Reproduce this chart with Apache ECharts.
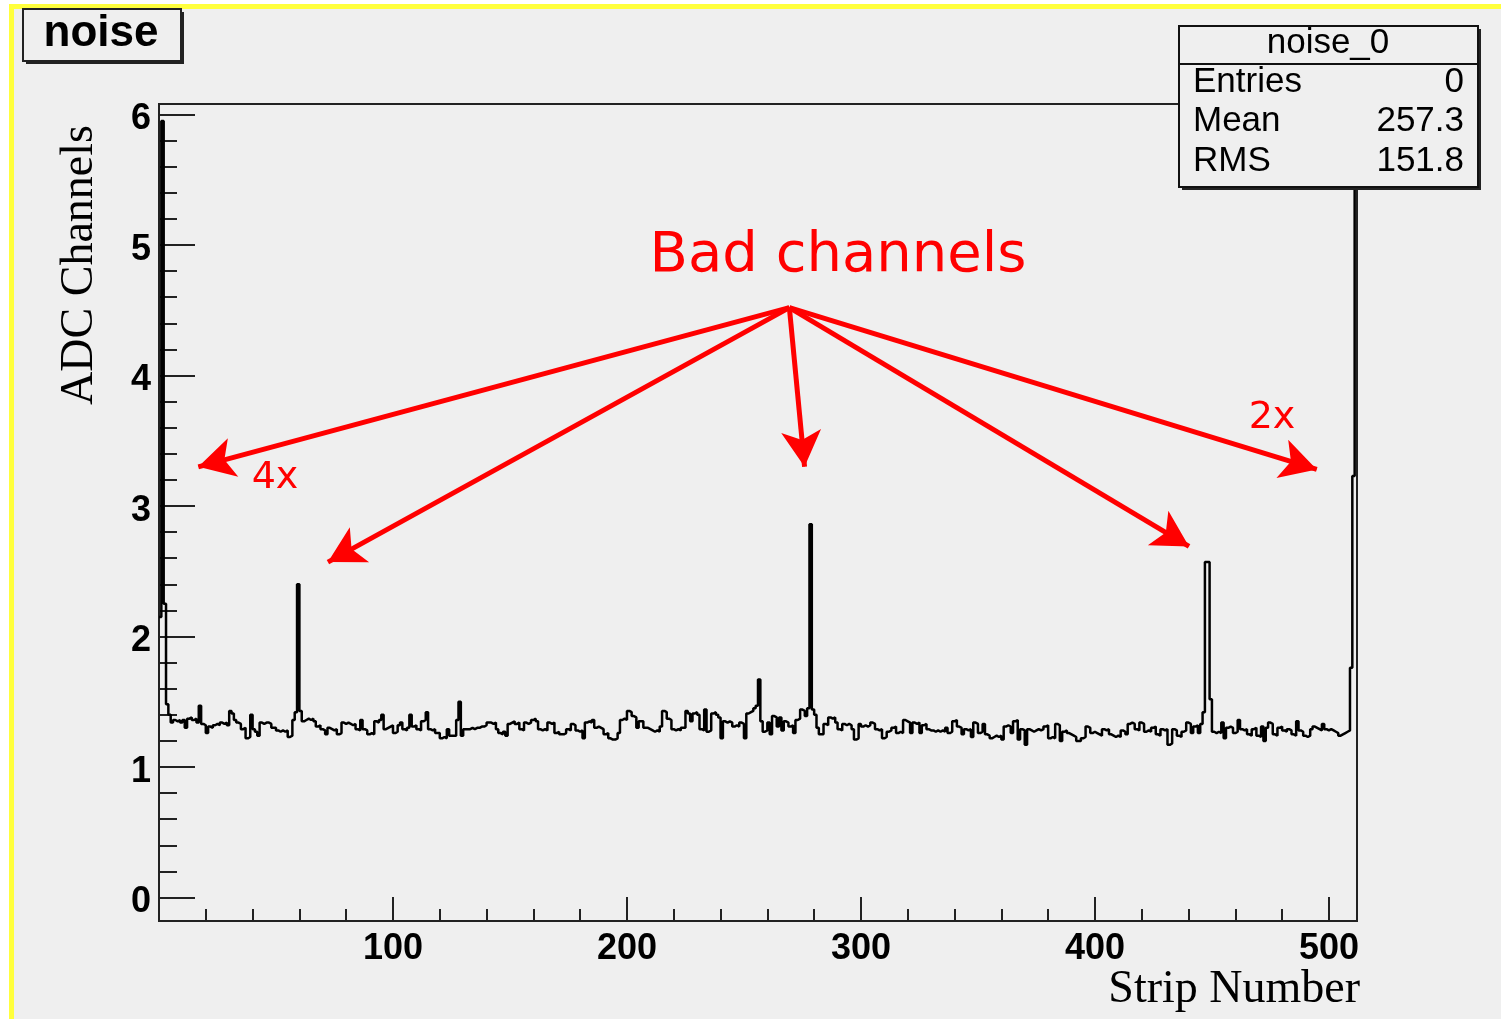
<!DOCTYPE html>
<html>
<head>
<meta charset="utf-8">
<title>noise</title>
<script src="https://cdn.jsdelivr.net/npm/echarts@6/dist/echarts.min.js"></script>
<style>
  html, body { margin: 0; padding: 0; background: #fff; }
  #chart { width: 1501px; height: 1019px; }
</style>
</head>
<body>
<div id="chart"></div>
<script>
// ADC noise per strip, one value per bin (strips 0..511)
var noise = [
  2.15, 5.95, 2.25, 1.48, 1.40, 1.34, 1.36, 1.35, 1.36, 1.34, 1.36, 1.30, 1.37, 1.38, 1.36, 1.37,
  1.34, 1.47, 1.33, 1.32, 1.26, 1.31, 1.30, 1.32, 1.33, 1.32, 1.34, 1.33, 1.34, 1.32, 1.43, 1.41,
  1.36, 1.34, 1.33, 1.29, 1.30, 1.22, 1.23, 1.40, 1.29, 1.27, 1.24, 1.34, 1.33, 1.34, 1.34, 1.33,
  1.30, 1.30, 1.28, 1.27, 1.28, 1.27, 1.28, 1.23, 1.24, 1.36, 1.42, 2.40, 1.43, 1.35, 1.36, 1.37,
  1.36, 1.37, 1.35, 1.31, 1.32, 1.29, 1.28, 1.25, 1.30, 1.29, 1.28, 1.29, 1.25, 1.26, 1.34, 1.33,
  1.34, 1.33, 1.32, 1.33, 1.29, 1.28, 1.36, 1.29, 1.28, 1.25, 1.26, 1.25, 1.35, 1.34, 1.36, 1.40,
  1.29, 1.30, 1.31, 1.32, 1.26, 1.27, 1.32, 1.34, 1.29, 1.28, 1.30, 1.40, 1.31, 1.32, 1.29, 1.28,
  1.35, 1.36, 1.42, 1.29, 1.28, 1.29, 1.26, 1.26, 1.22, 1.23, 1.22, 1.29, 1.24, 1.24, 1.24, 1.36,
  1.50, 1.24, 1.29, 1.29, 1.29, 1.30, 1.29, 1.30, 1.30, 1.31, 1.31, 1.32, 1.34, 1.34, 1.33, 1.34,
  1.29, 1.26, 1.25, 1.27, 1.24, 1.33, 1.34, 1.35, 1.33, 1.34, 1.29, 1.28, 1.34, 1.33, 1.34, 1.36,
  1.37, 1.35, 1.29, 1.28, 1.29, 1.28, 1.34, 1.33, 1.34, 1.26, 1.27, 1.25, 1.25, 1.26, 1.29, 1.28,
  1.33, 1.32, 1.28, 1.27, 1.28, 1.22, 1.34, 1.35, 1.34, 1.36, 1.30, 1.31, 1.30, 1.29, 1.25, 1.26,
  1.22, 1.21, 1.21, 1.22, 1.26, 1.36, 1.37, 1.36, 1.43, 1.42, 1.39, 1.38, 1.30, 1.35, 1.35, 1.30,
  1.30, 1.29, 1.28, 1.27, 1.28, 1.27, 1.31, 1.43, 1.42, 1.37, 1.36, 1.29, 1.28, 1.29, 1.28, 1.30,
  1.30, 1.43, 1.41, 1.35, 1.41, 1.42, 1.40, 1.29, 1.28, 1.44, 1.27, 1.28, 1.41, 1.42, 1.40, 1.38,
  1.22, 1.35, 1.34, 1.35, 1.34, 1.31, 1.32, 1.31, 1.34, 1.33, 1.22, 1.41, 1.42, 1.43, 1.45, 1.47,
  1.67, 1.35, 1.27, 1.28, 1.34, 1.25, 1.39, 1.38, 1.31, 1.38, 1.28, 1.35, 1.34, 1.31, 1.32, 1.26,
  1.36, 1.37, 1.44, 1.43, 1.39, 1.45, 2.86, 1.44, 1.40, 1.30, 1.25, 1.25, 1.33, 1.32, 1.38, 1.37,
  1.38, 1.34, 1.29, 1.28, 1.33, 1.32, 1.33, 1.32, 1.29, 1.21, 1.22, 1.33, 1.31, 1.32, 1.31, 1.32,
  1.34, 1.33, 1.29, 1.28, 1.29, 1.22, 1.23, 1.27, 1.28, 1.30, 1.31, 1.26, 1.27, 1.26, 1.36, 1.35,
  1.34, 1.26, 1.34, 1.33, 1.34, 1.26, 1.32, 1.33, 1.29, 1.28, 1.28, 1.27, 1.28, 1.27, 1.28, 1.27,
  1.30, 1.26, 1.27, 1.35, 1.36, 1.31, 1.30, 1.25, 1.29, 1.28, 1.29, 1.23, 1.34, 1.33, 1.26, 1.27,
  1.33, 1.25, 1.24, 1.22, 1.23, 1.24, 1.23, 1.24, 1.21, 1.31, 1.32, 1.31, 1.26, 1.35, 1.36, 1.21,
  1.29, 1.28, 1.17, 1.29, 1.28, 1.27, 1.28, 1.29, 1.28, 1.29, 1.31, 1.32, 1.22, 1.23, 1.22, 1.33,
  1.32, 1.20, 1.27, 1.28, 1.26, 1.25, 1.24, 1.23, 1.20, 1.20, 1.22, 1.23, 1.31, 1.30, 1.26, 1.27,
  1.26, 1.25, 1.24, 1.29, 1.28, 1.29, 1.25, 1.24, 1.23, 1.24, 1.23, 1.28, 1.27, 1.25, 1.33, 1.34,
  1.33, 1.29, 1.28, 1.34, 1.33, 1.27, 1.28, 1.27, 1.30, 1.31, 1.25, 1.24, 1.29, 1.28, 1.29, 1.17,
  1.18, 1.29, 1.28, 1.24, 1.23, 1.27, 1.28, 1.34, 1.33, 1.26, 1.31, 1.32, 1.26, 1.33, 1.42, 2.57,
  2.57, 1.52, 1.27, 1.26, 1.27, 1.26, 1.34, 1.22, 1.30, 1.31, 1.30, 1.26, 1.27, 1.36, 1.29, 1.28,
  1.29, 1.25, 1.24, 1.29, 1.30, 1.24, 1.23, 1.31, 1.20, 1.30, 1.34, 1.33, 1.25, 1.24, 1.30, 1.31,
  1.28, 1.27, 1.29, 1.28, 1.25, 1.24, 1.35, 1.28, 1.27, 1.24, 1.23, 1.24, 1.29, 1.31, 1.30, 1.29,
  1.28, 1.33, 1.29, 1.28, 1.29, 1.28, 1.27, 1.26, 1.24, 1.25, 1.26, 1.27, 1.28, 1.76, 3.23, 6.00
];

var xMajor = [100, 200, 300, 400, 500];
var xMinor = [20, 40, 60, 80, 120, 140, 160, 180, 220, 240, 260, 280, 320, 340, 360, 380,
              420, 440, 460, 480];
var yMajor = [0, 1, 2, 3, 4, 5, 6];
var yMinor = [0.2, 0.4, 0.6, 0.8, 1.2, 1.4, 1.6, 1.8, 2.2, 2.4, 2.6, 2.8, 3.2, 3.4, 3.6, 3.8,
              4.2, 4.4, 4.6, 4.8, 5.2, 5.4, 5.6, 5.8];

// annotation arrows, in data units: from the "Bad channels" label to each bad strip
var arrowFrom = [269.4, 4.52];
var arrowTo = [[16.8, 3.30], [72.2, 2.57], [275.9, 3.30], [440.2, 2.69], [494.8, 3.28]];

var statsRows = [['Entries', '0'], ['Mean', '257.3'], ['RMS', '151.8']];

var red = '#f00';
var bg = '#efefef';
var sans = '"Liberation Sans", Arial, sans-serif';
var serif = '"Liberation Serif", "Times New Roman", serif';

var histData = noise.map(function(v, i) { return [i, v]; });
histData.push([noise.length, noise[noise.length - 1]]);

var chart = echarts.init(document.getElementById('chart'), null, { renderer: 'canvas' });

function txt(x, y, text, font, opts) {
  opts = opts || {};
  return {
    type: 'text', x: x, y: y, z: opts.z || 20, rotation: opts.rotation || 0,
    style: {
      text: text, font: font, fill: opts.fill || '#000',
      textAlign: opts.align || 'center', align: opts.align || 'center',
      textVerticalAlign: 'middle', verticalAlign: 'middle'
    }
  };
}

var graphics = [
  // slide edge: white margin with yellow border on top and left
  { type: 'rect', z: 0, shape: { x: 0, y: 0, width: 1501, height: 4 }, style: { fill: '#fff' } },
  { type: 'rect', z: 0, shape: { x: 0, y: 0, width: 9, height: 1019 }, style: { fill: '#fff' } },
  { type: 'rect', z: 1, shape: { x: 9, y: 4, width: 1492, height: 5 }, style: { fill: '#ffff3c' } },
  { type: 'rect', z: 1, shape: { x: 9, y: 4, width: 5, height: 1015 }, style: { fill: '#ffff3c' } },

  // title box
  { type: 'rect', z: 20, shape: { x: 26, y: 12, width: 158, height: 52 }, style: { fill: '#222' } },
  { type: 'rect', z: 21, shape: { x: 23, y: 9, width: 158, height: 52 },
    style: { fill: bg, stroke: '#222', lineWidth: 2 } },
  Object.assign(txt(101, 34, 'noise', 'bold 44px ' + sans), { z: 22 }),

  // stats box
  { type: 'rect', z: 20, shape: { x: 1182, y: 29, width: 299, height: 161 }, style: { fill: '#222' } },
  { type: 'rect', z: 21, shape: { x: 1179, y: 26, width: 299, height: 161 },
    style: { fill: bg, stroke: '#111', lineWidth: 2 } },
  { type: 'line', z: 22, shape: { x1: 1179, y1: 64, x2: 1478, y2: 64 },
    style: { stroke: '#111', lineWidth: 2 } },
  Object.assign(txt(1328, 43, 'noise_0', '35px ' + sans), { z: 22 }),

  // axis titles
  txt(80, 265, 'ADC Channels', '46px ' + serif, { rotation: Math.PI / 2 }),
  txt(1360, 990, 'Strip Number', '46px ' + serif, { align: 'right' }),

  // annotation texts
  txt(838, 256, 'Bad channels', '56px "DejaVu Sans", Verdana, sans-serif', { fill: red }),
  txt(275, 478, '4x', '38px "DejaVu Sans", Verdana, sans-serif', { fill: red }),
  txt(1272, 418, '2x', '38px "DejaVu Sans", Verdana, sans-serif', { fill: red })
];

statsRows.forEach(function(row, i) {
  var y = 82 + i * 39.5;
  graphics.push(Object.assign(txt(1193, y, row[0], '35px ' + sans, { align: 'left' }), { z: 22 }));
  graphics.push(Object.assign(txt(1464, y, row[1], '35px ' + sans, { align: 'right' }), { z: 22 }));
});

var axisFont = { color: '#000', fontSize: 36, fontWeight: 'bold', fontFamily: sans };

chart.setOption({
  animation: false,
  backgroundColor: bg,
  grid: {
    left: 159, top: 104, right: 144, bottom: 98,
    show: true, borderColor: '#222', borderWidth: 2, backgroundColor: 'transparent'
  },
  xAxis: [
    {
      type: 'value', min: 0, max: 512, position: 'bottom',
      axisLine: { show: false, onZero: false },
      splitLine: { show: false },
      axisTick: { show: true, inside: true, length: 24, customValues: xMajor,
                  lineStyle: { color: '#222', width: 2 } },
      axisLabel: Object.assign({ customValues: xMajor, margin: 10 }, axisFont)
    },
    {
      type: 'value', min: 0, max: 512, position: 'bottom',
      axisLine: { show: false, onZero: false },
      splitLine: { show: false },
      axisTick: { show: true, inside: true, length: 12, customValues: xMinor,
                  lineStyle: { color: '#222', width: 2 } },
      axisLabel: { show: false }
    }
  ],
  yAxis: [
    {
      type: 'value', min: -0.18, max: 6.08, position: 'left',
      axisLine: { show: false, onZero: false },
      splitLine: { show: false },
      axisTick: { show: true, inside: true, length: 36, customValues: yMajor,
                  lineStyle: { color: '#222', width: 2 } },
      axisLabel: {
        customValues: yMajor, margin: 8,
        formatter: '{v|{value}}',
        rich: { v: Object.assign({ padding: [10, 0, 0, 0] }, axisFont) }
      }
    },
    {
      type: 'value', min: -0.18, max: 6.08, position: 'left',
      axisLine: { show: false, onZero: false },
      splitLine: { show: false },
      axisTick: { show: true, inside: true, length: 18, customValues: yMinor,
                  lineStyle: { color: '#222', width: 2 } },
      axisLabel: { show: false }
    }
  ],
  series: [{
    type: 'line',
    name: 'noise_0',
    data: histData,
    step: 'end',
    symbol: 'none',
    clip: true,
    lineStyle: { color: '#000', width: 2.5 },
    z: 5,
    markLine: {
      silent: true,
      symbol: ['none', 'arrow'],
      symbolSize: [30, 36],
      label: { show: false },
      lineStyle: { color: red, width: 5, type: 'solid' },
      emphasis: { disabled: true },
      data: arrowTo.map(function(p) {
        return [{ coord: arrowFrom }, { coord: p }];
      })
    }
  }],
  graphic: graphics
});
</script>
</body>
</html>
